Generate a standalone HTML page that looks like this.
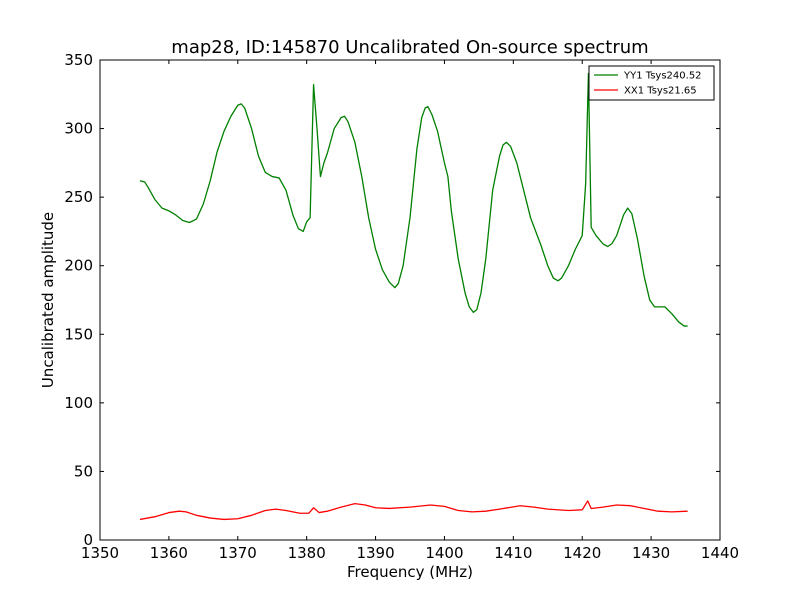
<!DOCTYPE html>
<html><head><meta charset="utf-8"><style>
body{margin:0;background:#fff;}
svg{display:block;font-family:"DejaVu Sans","Liberation Sans",sans-serif;}
</style></head><body>
<svg id="chart" width="800" height="600" viewBox="0 0 800 600">
<rect width="800" height="600" fill="#fff"/>
<text x="410" y="53" font-size="18" text-anchor="middle">map28, ID:145870 Uncalibrated On-source spectrum</text>
<g id="xticks"></g>
<g id="yticks"></g>
<g id="series"></g>
<rect x="100" y="60" width="620" height="480" fill="none" stroke="#000" stroke-width="1"/>
<text x="410" y="577" font-size="15" text-anchor="middle">Frequency (MHz)</text>
<text x="0" y="0" font-size="15" text-anchor="middle" transform="translate(53,300) rotate(-90)">Uncalibrated amplitude</text>
<g>
<rect x="589" y="66" width="125" height="34" fill="#fff" stroke="#000" stroke-width="1"/>
<line x1="594" y1="75" x2="618" y2="75" stroke="#008000" stroke-width="1.2"/>
<text x="624" y="78.5" font-size="10">YY1 Tsys240.52</text>
<line x1="594" y1="90" x2="618" y2="90" stroke="#ff0000" stroke-width="1.2"/>
<text x="624" y="93.5" font-size="10">XX1 Tsys21.65</text>
</g>
</svg>
<script>
const xTicks=[1350,1360,1370,1380,1390,1400,1410,1420,1430,1440];
const yTicks=[0,50,100,150,200,250,300,350];
const yyFreq=[1355.8,1356.5,1357,1358,1359,1360,1361,1362,1363,1364,1365,1366,1367,1368,1369,1370,1370.5,1371,1372,1373,1374,1375,1376,1377,1378,1378.8,1379.5,1380,1380.5,1381,1381.5,1382,1382.5,1383,1384,1385,1385.5,1386,1387,1388,1389,1390,1391,1392,1392.8,1393.3,1394,1395,1396,1396.7,1397.2,1397.6,1398.2,1399,1400,1400.5,1401,1402,1403,1403.6,1404.2,1404.7,1405.3,1406,1407,1408,1408.5,1409,1409.6,1410.5,1411.5,1412.5,1414,1415,1415.8,1416.5,1417,1418,1419,1420,1420.5,1420.9,1421.3,1422,1423,1423.7,1424.3,1425,1426,1426.6,1427.2,1428,1429,1429.8,1430.5,1431.5,1432,1433,1434,1434.8,1435.3];
const yyAmp=[262,261,257,248,242,240,237,233,231.5,234,245,262,283,298,309,317,318,315,300,280,268,265,264,255,237,227,225,232,235,332,300,265,275,282,300,308,309,305,290,265,235,212,197,188,184,187,200,235,285,308,315,316,310,298,275,265,240,205,180,170,166,168,180,205,255,280,288,290,287,275,255,235,215,200,191,189,191,200,212,222,260,340,228,222,216,214,216,222,237,242,238,220,192,175,170,170,170,165,159,156,156];
const xxFreq=[1355.8,1358,1360,1361.5,1362.5,1364,1366,1368,1370,1372,1374,1375.5,1377,1379,1380.3,1381,1381.8,1383,1385,1387,1388.5,1390,1392,1395,1398,1400,1402,1404,1406,1408,1411,1413,1415,1418,1420,1420.8,1421.3,1423,1425,1427,1429,1431,1433,1435.3];
const xxAmp=[15,17,20,21,20.5,18,16,15,15.5,18,21.5,22.5,21.5,19.5,19.5,23.5,20,21,24,26.5,25.5,23.5,23,24,25.5,24.5,21.5,20.5,21,22.5,25,24,22.5,21.5,22,28.5,23,24,25.5,25,23,21,20.5,21];
const NS='http://www.w3.org/2000/svg';
const X0=100,X1=720,Y0=540,Y1=60;
function sx(f){return X0+(f-1350)/(1440-1350)*(X1-X0);}
function sy(v){return Y0-(v/350)*(Y0-Y1);}
function mk(t,a,p){const e=document.createElementNS(NS,t);for(const k in a)e.setAttribute(k,a[k]);p.appendChild(e);return e;}
const gx=document.getElementById('xticks'),gy=document.getElementById('yticks'),gs=document.getElementById('series');
xTicks.forEach(t=>{const x=sx(t);
 let l=mk('line',{x1:x,x2:x,y1:Y0,y2:Y0-4,stroke:'#000'},gx);
 
 
 let l2=mk('line',{x1:x,x2:x,y1:Y1,y2:Y1+4,stroke:'#000'},gx);
 
 
 let tx=mk('text',{x:x,y:Y0+18,'font-size':15,'text-anchor':'middle'},gx);tx.textContent=t;
 
 
});
yTicks.forEach(t=>{const y=sy(t);
 let l=mk('line',{x1:X0,x2:X0+4,y1:y,y2:y,stroke:'#000'},gy);
 
 
 let l2=mk('line',{x1:X1,x2:X1-4,y1:y,y2:y,stroke:'#000'},gy);
 
 
 let tx=mk('text',{x:X0-7,y:y+5,'font-size':15,'text-anchor':'end'},gy);tx.textContent=t;
 
 
});
function line(fs,vs){return fs.map((f,i)=>(i?'L':'M')+sx(f).toFixed(2)+','+sy(vs[i]).toFixed(2)).join(' ');}
let p1=mk('path',{d:line(yyFreq,yyAmp),fill:'none',stroke:'#008000','stroke-width':1.3,'stroke-linejoin':'round'},gs);


let p2=mk('path',{d:line(xxFreq,xxAmp),fill:'none',stroke:'#ff0000','stroke-width':1.3,'stroke-linejoin':'round'},gs);


</script>
</body></html>
